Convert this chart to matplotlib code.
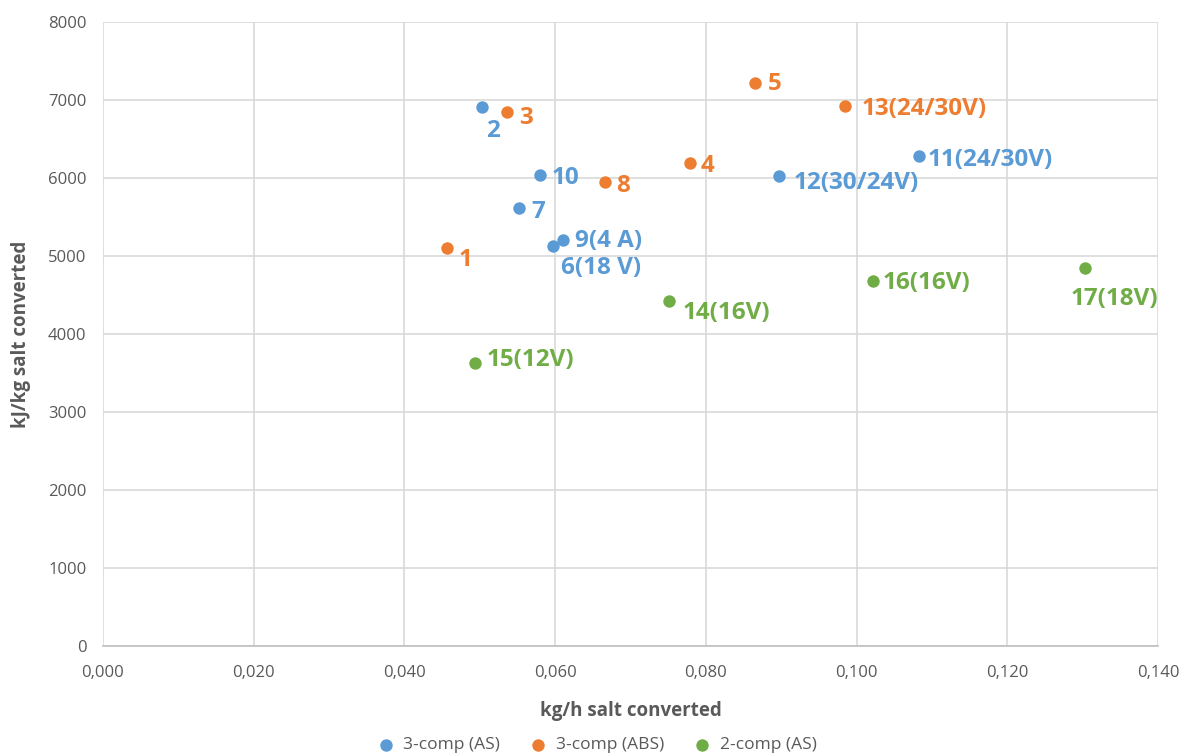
import matplotlib.pyplot as plt
from matplotlib.ticker import FuncFormatter

plt.rcParams['font.family'] = ['Open Sans', 'DejaVu Sans']

# 3-comp (AS)
as3_x = [0.0503, 0.0580, 0.0552, 0.0610, 0.0597, 0.0897, 0.1083]
as3_y = [6910, 6038, 5615, 5205, 5128, 6026, 6282]
as3_lab = ['2', '10', '7', '9(4 A)', '6(18 V)', '12(30/24V)', '11(24/30V)']
as3_off = [(4, -24), (12, -3), (12, -4), (12, -1), (8, -22), (15, -7), (8, -4)]

# 3-comp (ABS)
abs3_x = [0.0457, 0.0536, 0.0666, 0.0779, 0.0865, 0.0985]
abs3_y = [5103, 6846, 5949, 6192, 7218, 6923]
abs3_lab = ['1', '3', '8', '4', '5', '13(24/30V)']
abs3_off = [(11, -12), (12, -6), (11, -4), (11, -3), (13, -1), (16, -3)]

# 2-comp (AS)
as2_x = [0.0494, 0.0751, 0.1022, 0.1303]
as2_y = [3628, 4423, 4679, 4846]
as2_lab = ['15(12V)', '14(16V)', '16(16V)', '17(18V)']
as2_off = [(11, 3), (14, -12), (9, -2), (-14, -31)]

series = [
    ('3-comp (AS)', as3_x, as3_y, as3_lab, as3_off, '#5B9BD5'),
    ('3-comp (ABS)', abs3_x, abs3_y, abs3_lab, abs3_off, '#ED7D31'),
    ('2-comp (AS)', as2_x, as2_y, as2_lab, as2_off, '#70AD47'),
]

fig = plt.figure(figsize=(11.85, 7.56), dpi=100)
ax = fig.add_axes([0.0869, 0.1455, 0.8903, 0.8254])

for name, xs, ys, labs, offs, col in series:
    ax.scatter(xs, ys, s=80, color=col, label=name, zorder=3, linewidths=0)
    for x, y, t, o in zip(xs, ys, labs, offs):
        ax.annotate(t, (x, y), xytext=o, textcoords='offset pixels',
                    ha='left', va='center', color=col, fontsize=17.5,
                    fontweight='bold', zorder=4)

ax.set_xlim(0, 0.14)
ax.set_ylim(0, 8000)
ax.set_xticks([i * 0.02 for i in range(8)])
ax.set_yticks(range(0, 8001, 1000))
ax.xaxis.set_major_formatter(FuncFormatter(lambda v, p: f'{v:.3f}'.replace('.', ',')))
ax.grid(True, color='#D9D9D9', linewidth=1.2)
ax.set_axisbelow(True)
for s in ['top', 'right']:
    ax.spines[s].set_visible(False)
ax.spines['left'].set_visible(False)
ax.spines['bottom'].set_color('#BFBFBF')
ax.spines['bottom'].set_linewidth(1.2)
ax.tick_params(length=0, labelsize=12, labelcolor='#595959')
ax.tick_params(axis='x', pad=14)
ax.tick_params(axis='y', pad=12)

ax.set_xlabel('kg/h salt converted', fontsize=13.5, fontweight='bold',
              color='#595959', labelpad=14)
ax.set_ylabel('kJ/kg salt converted', fontsize=13.5, fontweight='bold',
              color='#595959', labelpad=12)

fig.legend(*ax.get_legend_handles_labels(), loc='center',
           bbox_to_anchor=(0.5, 1 - 745 / 756), ncol=3, frameon=False,
           fontsize=12.5, handletextpad=0.0, columnspacing=1.2,
           borderaxespad=0, borderpad=0, labelcolor='#595959')

fig.savefig('out.png', dpi=100)
